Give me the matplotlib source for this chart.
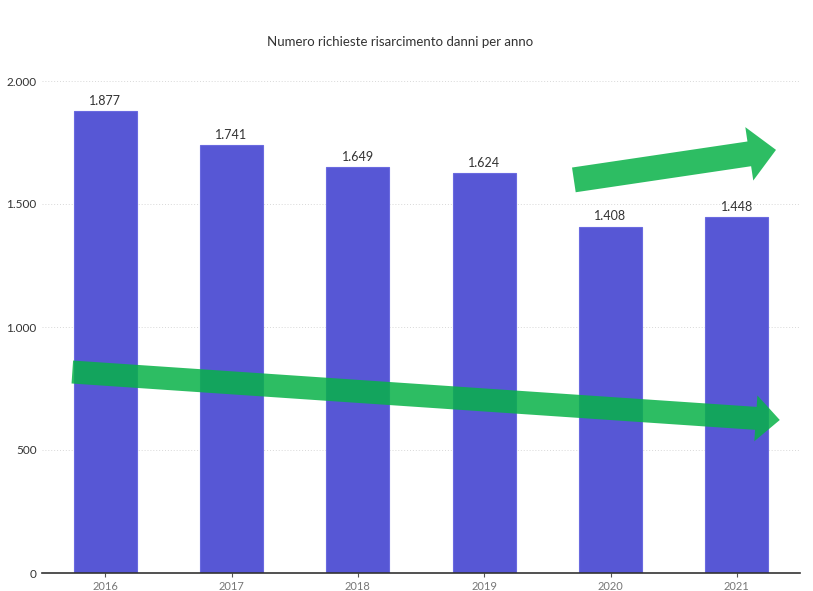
import numpy as np
import matplotlib
matplotlib.use("Agg")
import matplotlib.pyplot as plt
from matplotlib.patches import FancyArrow
from matplotlib.transforms import IdentityTransform

years = ["2016", "2017", "2018", "2019", "2020", "2021"]
richieste = [1877, 1741, 1649, 1624, 1408, 1448]
y_ticks = [0, 500, 1000, 1500, 2000]
y_labels = ["0", "500", "1.000", "1.500", "2.000"]

# trend arrows: (x0, y0) -> (x1, y1) in data units, sizes in pixels
arrows = [
    ((-0.26, 817), (5.34, 622), 23, 46, 24),
    ((3.71, 1598), (5.31, 1720), 25, 54, 27),
]

plt.rcParams['font.family'] = ['Lato', 'DejaVu Sans']

W, H = 813, 591
fig = plt.figure(figsize=(W/100, H/100), dpi=100)
ax = fig.add_axes([42/W, 1-573/H, (800-42)/W, (573-81)/H])

x = np.arange(len(years))
bars = ax.bar(x, richieste, width=0.5, color='#5757d5', edgecolor='#6a6ae0', linewidth=0.8, zorder=2)
for xi, v in zip(x, richieste):
    ax.annotate(f"{v:,}".replace(",", "."), (xi, v), xytext=(0, 3), textcoords='offset points',
                ha='center', va='bottom', fontsize=9, color='#333333', clip_on=False)

ax.set_xlim(-0.5, 5.5)
ax.set_ylim(0, 2000)
ax.set_yticks(y_ticks)
ax.set_yticklabels(y_labels)
ax.set_xticks(x)
ax.set_xticklabels(years)
for yt in y_ticks[1:]:
    ax.axhline(yt, color='#d8d8d8', lw=0.7, ls=(0, (1, 2)), zorder=1, clip_on=False)

for s in ['top', 'right', 'left']:
    ax.spines[s].set_visible(False)
ax.spines['bottom'].set_color('#333333')
ax.spines['bottom'].set_linewidth(1.2)
ax.tick_params(axis='y', length=0, pad=4, labelsize=8.5, labelcolor='#333333')
ax.tick_params(axis='x', length=3, width=0.8, color='#555555', pad=2.5, labelsize=8, labelcolor='#777777')

fig.text(400/W, 1-42/H, "Numero richieste risarcimento danni per anno", ha='center', va='center',
         fontsize=9.5, color='#333333')

for (x0, y0), (x1, y1), w, hw, hl in arrows:
    p0 = ax.transData.transform((x0, y0))
    p1 = ax.transData.transform((x1, y1))
    arr = FancyArrow(p0[0], p0[1], p1[0]-p0[0], p1[1]-p0[1], width=w, head_width=hw, head_length=hl,
                     length_includes_head=True, transform=IdentityTransform(),
                     color='#08b248', alpha=0.85, lw=0, zorder=5)
    fig.patches.append(arr)
    arr.set_figure(fig)

fig.savefig("out.png", dpi=100)
